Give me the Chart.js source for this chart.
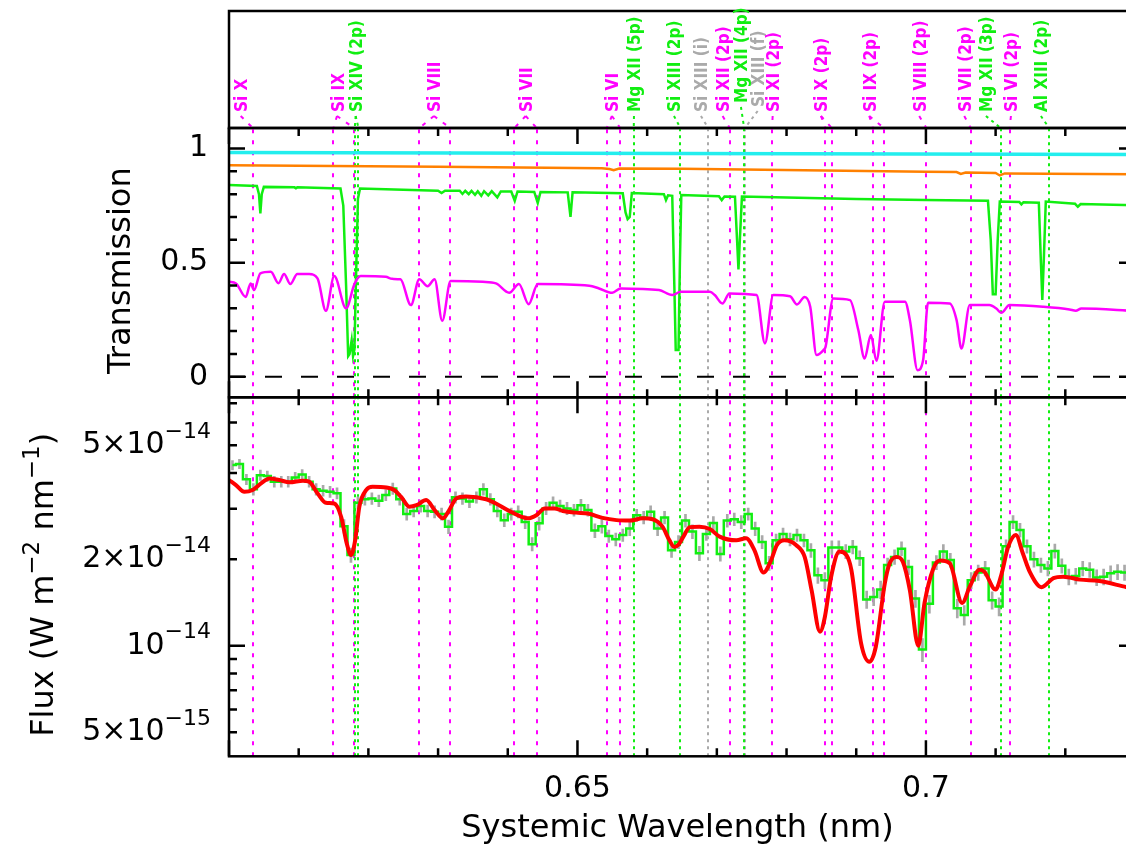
<!DOCTYPE html>
<html>
<head>
<meta charset="utf-8">
<script src="https://cdn.jsdelivr.net/npm/chart.js@4.4.1/dist/chart.umd.min.js"></script>
<style>
    html, body { margin: 0; padding: 0; background: #fff; overflow: hidden; }
    #wrap { position: relative; width: 1126px; height: 849px; overflow: hidden; background: #fff; }
    #wrap canvas { position: absolute; left: 0; }
</style>
</head>
<body>
<div id="wrap">
    <canvas id="labelPanel" width="1140" height="140" style="top:0px"></canvas>
    <canvas id="transPanel" width="1140" height="290" style="top:120px"></canvas>
    <canvas id="fluxPanel" width="1140" height="459" style="top:390px"></canvas>
</div>
<script>
const WAVE_MIN = 0.600;
const WAVE_MAX = 0.730;
const FONT = '"DejaVu Sans", sans-serif';

//  Axis ticks
const xMajorTicks = [0.60, 0.65, 0.70];
const xMinorTicks = [0.61, 0.62, 0.63, 0.64, 0.66, 0.67, 0.68, 0.69, 0.71, 0.72];
const xTickLabels = ['', '0.65', '0.7'];
const transMajorTicks = [0, 0.5, 1];
const transMinorTicks = [0.1, 0.2, 0.3, 0.4, 0.6, 0.7, 0.8, 0.9];
const transTickLabels = ['0', '0.5', '1'];
const fluxMajorTicks = [1];
const fluxMinorTicks = [0.5, 0.6, 0.7, 0.8, 0.9, 2, 3, 4, 5, 6, 7];
const fluxLabelTicks = [0.5, 1, 2, 5];
const fluxTickMant = ['5', '', '2', '5'];
const fluxTickExp = ['\u221215', '\u221214', '\u221214', '\u221214'];

//  Identified lines
const lineNames = ['Si X', 'Si IX', 'Si XIV (2p)', 'Si VIII', 'Si VII', 'Si VI', 'Mg XII (5p)',
    'Si XIII (2p)', 'Si XIII (i)', 'Si XII (2p)', 'Mg XII (4p)', 'Si XIII (f)', 'Si XI (2p)',
    'Si X (2p)', 'Si IX (2p)', 'Si VIII (2p)', 'Si VII (2p)', 'Mg XII (3p)', 'Si VI (2p)', 'Al XIII (2p)'];
const lineKinds = ['m', 'm', 'g', 'm', 'm', 'm', 'g', 'g', 'i', 'm', 'g', 'i', 'm', 'm', 'm', 'm', 'm', 'g', 'm', 'g'];
const labelWaves = [0.60261, 0.61643, 0.61911, 0.63034, 0.64350, 0.65588, 0.65904, 0.66478, 0.66865, 0.67176,
    0.67439, 0.67679, 0.67894, 0.68587, 0.69280, 0.69997, 0.70643, 0.70954, 0.71313, 0.71743];
const labelLift = [0, 0, 0, 0, 0, 0, 0, 0, 0, 0, 9, 5, 0, 0, 0, 0, 0, 0, 0, 0];
const lineWaves = [[0.60341], [0.61499, 0.61795], [0.61804, 0.61858], [0.62733, 0.63174], [0.64096, 0.64416],
    [0.65420, 0.65613], [0.65808], [0.66478], [0.66875], [0.67185], [0.67392], [0.67403], [0.67793],
    [0.68558, 0.68649], [0.69242, 0.69400], [0.70007], [0.70643], [0.71073], [0.71202], [0.71768]];
const kindColour = { m: '#ff00ff', g: '#11ee11', i: '#aaaaaa' };
const kindDash = { m: [4, 7], g: [3, 4], i: [3, 4] };
const kindOrder = ['i', 'm', 'g'];   // grey underneath, green on top

//  Transmission curves
const cyanWave = [0.600, 0.730];
const cyanTrans = [0.983, 0.974];
const orangeWave = [0.600, 0.630, 0.6535, 0.6546, 0.6552, 0.6560, 0.665, 0.700, 0.7044, 0.7050, 0.7057,
    0.7100, 0.7106, 0.7113, 0.730];
const orangeTrans = [0.927, 0.920, 0.914, 0.910, 0.905, 0.912, 0.911, 0.898, 0.897, 0.889, 0.895,
    0.893, 0.882, 0.891, 0.887];
const greenWave = [0.6000, 0.6040, 0.6043, 0.6045, 0.6047, 0.6050, 0.6094, 0.6096, 0.6098, 0.6160, 0.6164,
    0.6168, 0.6171, 0.6173, 0.6176, 0.6178, 0.6180, 0.6182, 0.6185, 0.6188, 0.6300, 0.6305, 0.6310, 0.6331,
    0.6335, 0.6339, 0.6344, 0.6348, 0.6353, 0.6357, 0.6362, 0.6366, 0.6372, 0.6377, 0.6385, 0.6390, 0.6405,
    0.6410, 0.6414, 0.6438, 0.6443, 0.6447, 0.6486, 0.6490, 0.6493, 0.6565, 0.6569, 0.6572, 0.6575, 0.6578,
    0.6624, 0.6627, 0.6630, 0.6636, 0.6639, 0.6641, 0.6645, 0.6647, 0.6649, 0.6703, 0.6707, 0.6711, 0.6726,
    0.6729, 0.6731, 0.6733, 0.6736, 0.6800, 0.6900, 0.7000, 0.7089, 0.7093, 0.7096, 0.7100, 0.7103, 0.7106,
    0.7134, 0.7137, 0.7140, 0.7162, 0.7165, 0.7167, 0.7169, 0.7172, 0.7214, 0.7218, 0.7222, 0.7300];
const greenTrans = [0.840, 0.836, 0.800, 0.716, 0.800, 0.832, 0.830, 0.826, 0.830, 0.825, 0.750,
    0.400, 0.091, 0.100, 0.160, 0.091, 0.120, 0.400, 0.780, 0.825, 0.815, 0.805, 0.815, 0.815,
    0.801, 0.815, 0.800, 0.814, 0.797, 0.813, 0.793, 0.813, 0.795, 0.813, 0.786, 0.812, 0.812,
    0.771, 0.812, 0.810, 0.762, 0.810, 0.808, 0.701, 0.808, 0.804, 0.720, 0.691, 0.700, 0.805,
    0.800, 0.774, 0.795, 0.793, 0.400, 0.117, 0.117, 0.500, 0.796, 0.791, 0.774, 0.790, 0.789,
    0.600, 0.470, 0.600, 0.790, 0.785, 0.779, 0.775, 0.771, 0.600, 0.362, 0.362, 0.600, 0.768,
    0.766, 0.755, 0.765, 0.763, 0.500, 0.336, 0.500, 0.768, 0.758, 0.745, 0.757, 0.751];
const magentaWave = [0.6000, 0.6010, 0.6024, 0.6031, 0.6036, 0.6045, 0.6060, 0.6071, 0.6079, 0.6088, 0.6098,
    0.6115, 0.6127, 0.6139, 0.6151, 0.6168, 0.6180, 0.6189, 0.6225, 0.6234, 0.6246, 0.6261, 0.6273, 0.6285,
    0.6295, 0.6306, 0.6318, 0.6364, 0.6383, 0.6402, 0.6416, 0.6430, 0.6443, 0.6517, 0.6531, 0.6550, 0.6562,
    0.6617, 0.6636, 0.6648, 0.6690, 0.6697, 0.6708, 0.6718, 0.6757, 0.6769, 0.6781, 0.6805, 0.6815, 0.6826,
    0.6834, 0.6843, 0.6853, 0.6856, 0.6867, 0.6891, 0.6903, 0.6912, 0.6921, 0.6929, 0.6941, 0.6970, 0.6977,
    0.6988, 0.6996, 0.7003, 0.7034, 0.7044, 0.7051, 0.7063, 0.7091, 0.7101, 0.7108, 0.7120, 0.7168, 0.7206,
    0.7215, 0.7223, 0.7300];
const magentaTrans = [0.416, 0.409, 0.350, 0.409, 0.380, 0.453, 0.460, 0.410, 0.450, 0.406, 0.450,
    0.450, 0.431, 0.289, 0.441, 0.300, 0.406, 0.441, 0.438, 0.429, 0.427, 0.314, 0.427, 0.397,
    0.427, 0.245, 0.420, 0.416, 0.409, 0.368, 0.406, 0.318, 0.406, 0.399, 0.387, 0.368, 0.387,
    0.380, 0.358, 0.372, 0.372, 0.358, 0.321, 0.365, 0.358, 0.146, 0.358, 0.353, 0.317, 0.350,
    0.307, 0.095, 0.117, 0.131, 0.343, 0.336, 0.205, 0.080, 0.183, 0.070, 0.329, 0.329, 0.248,
    0.029, 0.073, 0.324, 0.321, 0.248, 0.124, 0.314, 0.314, 0.299, 0.280, 0.314, 0.307, 0.295,
    0.289, 0.299, 0.288];

//  Observed spectrum, 0.001 nm bins from 0.600 nm (units of 1e-14 W m^-2 nm^-1)
const BIN_START = 0.600;
const BIN_WIDTH = 0.001;
const obsFlux = [4.26, 4.30, 3.80, 3.51, 3.93, 3.90, 3.73, 3.73, 3.73, 3.86,
    3.95, 3.73, 3.51, 3.47, 3.44, 3.40, 2.61, 2.07, 3.15, 3.24,
    3.26, 3.20, 3.35, 3.53, 3.24, 2.88, 2.95, 3.07, 2.95, 2.93,
    2.88, 2.60, 3.29, 3.26, 3.18, 3.29, 3.51, 3.24, 2.95, 2.74,
    2.88, 2.93, 2.70, 2.26, 2.67, 3.01, 3.15, 3.07, 3.01, 2.97,
    3.09, 2.97, 2.52, 2.61, 2.41, 2.35, 2.43, 2.56, 2.85, 2.80,
    2.93, 2.56, 2.80, 2.15, 2.30, 2.73, 2.50, 2.10, 2.45, 2.68,
    2.09, 2.73, 2.76, 2.70, 2.88, 2.56, 2.30, 1.94, 2.33, 2.45,
    2.35, 2.43, 2.33, 2.15, 1.76, 1.69, 2.20, 2.20, 2.13, 2.21,
    2.02, 1.45, 1.48, 1.57, 1.91, 2.04, 2.18, 1.88, 1.46, 0.97,
    1.40, 1.95, 2.13, 1.99, 1.35, 1.28, 1.69, 1.80, 1.86, 1.44,
    1.37, 2.22, 2.70, 2.53, 2.22, 2.00, 1.91, 1.86, 2.14, 1.90,
    1.74, 1.75, 1.86, 1.84, 1.73, 1.74, 1.79, 1.81, 1.80, 1.80];
const obsErr = [0.16, 0.16, 0.16, 0.16, 0.16, 0.16, 0.16, 0.16, 0.16, 0.16,
    0.16, 0.16, 0.16, 0.15, 0.15, 0.15, 0.14, 0.12, 0.15, 0.15,
    0.15, 0.15, 0.15, 0.16, 0.15, 0.14, 0.14, 0.15, 0.14, 0.14,
    0.14, 0.14, 0.15, 0.15, 0.15, 0.15, 0.16, 0.15, 0.14, 0.14,
    0.14, 0.14, 0.14, 0.12, 0.14, 0.15, 0.15, 0.15, 0.15, 0.14,
    0.15, 0.14, 0.14, 0.14, 0.12, 0.12, 0.12, 0.14, 0.14, 0.14,
    0.14, 0.14, 0.14, 0.12, 0.12, 0.14, 0.14, 0.12, 0.12, 0.14,
    0.12, 0.14, 0.14, 0.14, 0.14, 0.14, 0.12, 0.11, 0.12, 0.12,
    0.12, 0.12, 0.12, 0.12, 0.11, 0.11, 0.12, 0.12, 0.12, 0.12,
    0.12, 0.10, 0.10, 0.11, 0.11, 0.12, 0.12, 0.11, 0.10, 0.09,
    0.10, 0.11, 0.12, 0.11, 0.10, 0.10, 0.11, 0.11, 0.11, 0.10,
    0.10, 0.12, 0.14, 0.14, 0.12, 0.12, 0.11, 0.11, 0.12, 0.11,
    0.11, 0.11, 0.11, 0.11, 0.11, 0.11, 0.11, 0.11, 0.11, 0.11];

//  Best-fit model
const modelWave = [0.6000, 0.6010, 0.6022, 0.6034, 0.6046, 0.6058, 0.6072, 0.6087, 0.6106, 0.6115, 0.6127,
    0.6139, 0.6151, 0.6161, 0.6169, 0.6175, 0.6181, 0.6187, 0.6197, 0.6206, 0.6226, 0.6237, 0.6247, 0.6259,
    0.6269, 0.6283, 0.6295, 0.6307, 0.6316, 0.6326, 0.6340, 0.6369, 0.6383, 0.6402, 0.6429, 0.6441, 0.6453,
    0.6467, 0.6479, 0.6498, 0.6515, 0.6536, 0.6556, 0.6575, 0.6594, 0.6608, 0.6622, 0.6632, 0.6639, 0.6645,
    0.6652, 0.6661, 0.6675, 0.6690, 0.6704, 0.6728, 0.6742, 0.6754, 0.6767, 0.6778, 0.6786, 0.6797, 0.6814,
    0.6826, 0.6836, 0.6848, 0.6855, 0.6864, 0.6876, 0.6886, 0.6893, 0.6907, 0.6919, 0.6928, 0.6941, 0.6948,
    0.6958, 0.6967, 0.6977, 0.6989, 0.6998, 0.7010, 0.7020, 0.7034, 0.7052, 0.7063, 0.7077, 0.7084, 0.7100,
    0.7108, 0.7118, 0.7129, 0.7139, 0.7149, 0.7166, 0.7183, 0.7197, 0.7221, 0.7249, 0.7288, 0.7300];
const modelFlux = [3.78, 3.63, 3.44, 3.49, 3.68, 3.83, 3.78, 3.71, 3.76, 3.73, 3.40,
    3.15, 3.13, 2.81, 2.27, 2.07, 2.33, 3.05, 3.49, 3.58, 3.56, 3.49, 3.30, 3.05,
    3.09, 3.22, 2.97, 2.78, 2.97, 3.26, 3.31, 3.24, 3.13, 2.95, 2.78, 2.85, 3.01,
    3.01, 2.95, 2.91, 2.89, 2.79, 2.74, 2.73, 2.78, 2.76, 2.60, 2.33, 2.21, 2.25,
    2.40, 2.59, 2.60, 2.55, 2.40, 2.33, 2.37, 2.15, 1.80, 1.99, 2.24, 2.33, 2.24,
    2.04, 1.56, 1.12, 1.26, 1.74, 2.13, 2.07, 1.84, 1.02, 0.88, 0.99, 1.65, 1.94,
    2.04, 1.96, 1.56, 1.00, 1.41, 1.84, 1.98, 1.94, 1.41, 1.61, 1.84, 1.81, 1.57,
    1.76, 2.21, 2.43, 2.10, 1.81, 1.60, 1.72, 1.74, 1.70, 1.68, 1.60, 1.58];

const toPoints = (xs, ys) => xs.map((x, i) => ({ x, y: ys[i] }));

//  Dotted markers at every line wavelength, inside the plot box
const markerLines = {
    id: 'markerLines',
    beforeDatasetsDraw(chart) {
        const { ctx, chartArea: a, scales: { x } } = chart;
        ctx.save();
        ctx.beginPath();
        ctx.rect(a.left, a.top, a.width, a.height);
        ctx.clip();
        ctx.lineWidth = 2;
        kindOrder.forEach(kind => {
            ctx.strokeStyle = kindColour[kind];
            ctx.setLineDash(kindDash[kind]);
            lineWaves.forEach((waves, i) => {
                if (lineKinds[i] !== kind) return;
                waves.forEach(w => {
                    const px = Math.round(x.getPixelForValue(w));
                    ctx.beginPath();
                    ctx.moveTo(px, a.bottom);
                    ctx.lineTo(px, a.top);
                    ctx.stroke();
                });
            });
        });
        ctx.restore();
    }
};

//  Frame with inward ticks on all four sides
function drawFrame(chart, yScale, yMajor, yMinor) {
    const { ctx, chartArea: a, scales: { x } } = chart;
    ctx.save();
    ctx.strokeStyle = '#000';
    ctx.lineWidth = 2.5;
    ctx.setLineDash([]);
    ctx.beginPath();
    const tickX = (v, len) => {
        const p = x.getPixelForValue(v);
        ctx.moveTo(p, a.top); ctx.lineTo(p, a.top + len);
        ctx.moveTo(p, a.bottom); ctx.lineTo(p, a.bottom - len);
    };
    const tickY = (v, len) => {
        const p = yScale.getPixelForValue(v);
        ctx.moveTo(a.left, p); ctx.lineTo(a.left + len, p);
        ctx.moveTo(a.right, p); ctx.lineTo(a.right - len, p);
    };
    xMajorTicks.forEach(v => tickX(v, 16));
    xMinorTicks.forEach(v => tickX(v, 8));
    yMajor.forEach(v => tickY(v, 16));
    yMinor.forEach(v => tickY(v, 8));
    ctx.stroke();
    ctx.strokeRect(a.left, a.top, a.width, a.height);
    ctx.restore();
}

//  Text run with superscripts, parts = [[text, isSup], ...]
function richWidth(ctx, parts, size, supSize) {
    return parts.reduce((w, [t, sup]) => {
        ctx.font = `${sup ? supSize : size}px ${FONT}`;
        return w + ctx.measureText(t).width;
    }, 0);
}
function drawRich(ctx, parts, x0, y0, size, supSize, raise) {
    let x = x0;
    parts.forEach(([t, sup]) => {
        ctx.font = `${sup ? supSize : size}px ${FONT}`;
        ctx.fillText(t, x, sup ? y0 - raise : y0);
        x += ctx.measureText(t).width;
    });
}

function baseOptions(yScale, padding) {
    return {
        responsive: false,
        animation: false,
        events: [],
        layout: { padding },
        plugins: { legend: { display: false }, tooltip: { enabled: false } },
        elements: { point: { radius: 0 } },
        scales: {
            x: { type: 'linear', min: WAVE_MIN, max: WAVE_MAX, display: false, offset: false },
            y: Object.assign({ display: false }, yScale)
        }
    };
}

//  Top strip: line identifications
new Chart(document.getElementById('labelPanel'), {
    type: 'line',
    data: { datasets: [] },
    options: baseOptions({ type: 'linear', min: 0, max: 1 }, { left: 229, right: 5, top: 11, bottom: 12 }),
    plugins: [{
        id: 'lineLabels',
        afterDraw(chart) {
            const { ctx, chartArea: a, scales: { x } } = chart;
            ctx.save();
            ctx.strokeStyle = '#000';
            ctx.lineWidth = 2.5;
            ctx.strokeRect(a.left, a.top, a.width, a.height);
            lineNames.forEach((name, i) => {
                const colour = kindColour[lineKinds[i]];
                const lx = x.getPixelForValue(labelWaves[i]);
                ctx.save();
                ctx.translate(lx, a.bottom - 16 - labelLift[i]);
                ctx.rotate(-Math.PI / 2);
                ctx.scale(0.85, 1);
                ctx.fillStyle = colour;
                ctx.font = `bold 18px ${FONT}`;
                ctx.textAlign = 'left';
                ctx.textBaseline = 'alphabetic';
                ctx.fillText(name, 0, 0);
                ctx.restore();
                ctx.strokeStyle = colour;
                ctx.lineWidth = 2;
                ctx.setLineDash(kindDash[lineKinds[i]]);
                lineWaves[i].forEach(w => {
                    ctx.beginPath();
                    ctx.moveTo(lx - 6.5, a.bottom - 12 - labelLift[i]);
                    ctx.lineTo(x.getPixelForValue(w), a.bottom);
                    ctx.stroke();
                });
            });
            ctx.restore();
        }
    }]
});

//  Middle panel: transmission
new Chart(document.getElementById('transPanel'), {
    type: 'line',
    data: {
        datasets: [
            { data: toPoints(magentaWave, magentaTrans), borderColor: '#ff00ff', borderWidth: 2.5, cubicInterpolationMode: 'monotone' },
            { data: toPoints(greenWave, greenTrans), borderColor: '#11ee11', borderWidth: 2.5 },
            { data: toPoints(orangeWave, orangeTrans), borderColor: '#ff8000', borderWidth: 2.5 },
            { data: toPoints(cyanWave, cyanTrans), borderColor: '#22eeee', borderWidth: 3.5 },
            { data: toPoints([WAVE_MIN, WAVE_MAX], [0, 0]), borderColor: '#000', borderWidth: 2, borderDash: [17, 19] }
        ]
    },
    options: baseOptions({ type: 'linear', min: -0.09, max: 1.09 }, { left: 229, right: 5, top: 8, bottom: 12.7 }),
    plugins: [markerLines, {
        id: 'transAxes',
        afterDraw(chart) {
            const { ctx, chartArea: a, scales: { y } } = chart;
            drawFrame(chart, y, transMajorTicks, transMinorTicks);
            ctx.save();
            ctx.fillStyle = '#000';
            ctx.font = `30px ${FONT}`;
            ctx.textAlign = 'right';
            ctx.textBaseline = 'middle';
            transMajorTicks.forEach((v, i) => ctx.fillText(transTickLabels[i], 208, y.getPixelForValue(v)));
            ctx.font = `32px ${FONT}`;
            ctx.translate(130, (a.top + a.bottom) / 2 + 8);
            ctx.rotate(-Math.PI / 2);
            ctx.textAlign = 'center';
            ctx.textBaseline = 'alphabetic';
            ctx.fillText('Transmission', 0, 0);
            ctx.restore();
        }
    }]
});

//  Bottom panel: observed flux with model
new Chart(document.getElementById('fluxPanel'), {
    type: 'line',
    data: {
        datasets: [
            {
                type: 'line',
                data: toPoints(modelWave, modelFlux),
                borderColor: '#ff0000', borderWidth: 4,
                cubicInterpolationMode: 'monotone', order: 0
            },
            {
                type: 'line',
                data: obsFlux.map((f, i) => ({ x: BIN_START + (i + 0.5) * BIN_WIDTH, y: f })),
                borderColor: '#11ee11', borderWidth: 2.5, stepped: 'middle', order: 1
            },
            {
                type: 'bar',
                data: obsFlux.map((f, i) => ({ x: BIN_START + (i + 0.5) * BIN_WIDTH, y: [f - obsErr[i], f + obsErr[i]] })),
                backgroundColor: '#a9a9a9', barThickness: 2, grouped: false, order: 2
            }
        ]
    },
    options: baseOptions({ type: 'logarithmic', min: 0.412, max: 7.34 }, { left: 229, right: 5, top: 7.3, bottom: 92.7 }),
    plugins: [markerLines, {
        id: 'fluxAxes',
        afterDraw(chart) {
            const { ctx, chartArea: a, scales: { x, y } } = chart;
            drawFrame(chart, y, fluxMajorTicks, fluxMinorTicks);
            ctx.save();
            ctx.fillStyle = '#000';
            ctx.textBaseline = 'middle';
            fluxLabelTicks.forEach((v, i) => {
                const parts = [[fluxTickMant[i] ? fluxTickMant[i] + '\u00d710' : '10', false], [fluxTickExp[i], true]];
                const w = richWidth(ctx, parts, 30, 22);
                drawRich(ctx, parts, 211 - w, y.getPixelForValue(v), 30, 22, 13);
            });
            ctx.textBaseline = 'alphabetic';
            ctx.textAlign = 'center';
            ctx.font = `30px ${FONT}`;
            xMajorTicks.forEach((v, i) => {
                if (xTickLabels[i]) ctx.fillText(xTickLabels[i], x.getPixelForValue(v), a.bottom + 41);
            });
            ctx.font = `32px ${FONT}`;
            ctx.fillText('Systemic Wavelength (nm)', (a.left + 1126) / 2, a.bottom + 81);
            ctx.textAlign = 'left';
            const title = [['Flux (W m', false], ['\u22122', true], [' nm', false], ['\u22121', true], [')', false]];
            const tw = richWidth(ctx, title, 32, 23);
            ctx.translate(53, (a.top + a.bottom) / 2 + 8);
            ctx.rotate(-Math.PI / 2);
            drawRich(ctx, title, -tw / 2, 0, 32, 23, 14);
            ctx.restore();
        }
    }]
});
</script>
</body>
</html>
